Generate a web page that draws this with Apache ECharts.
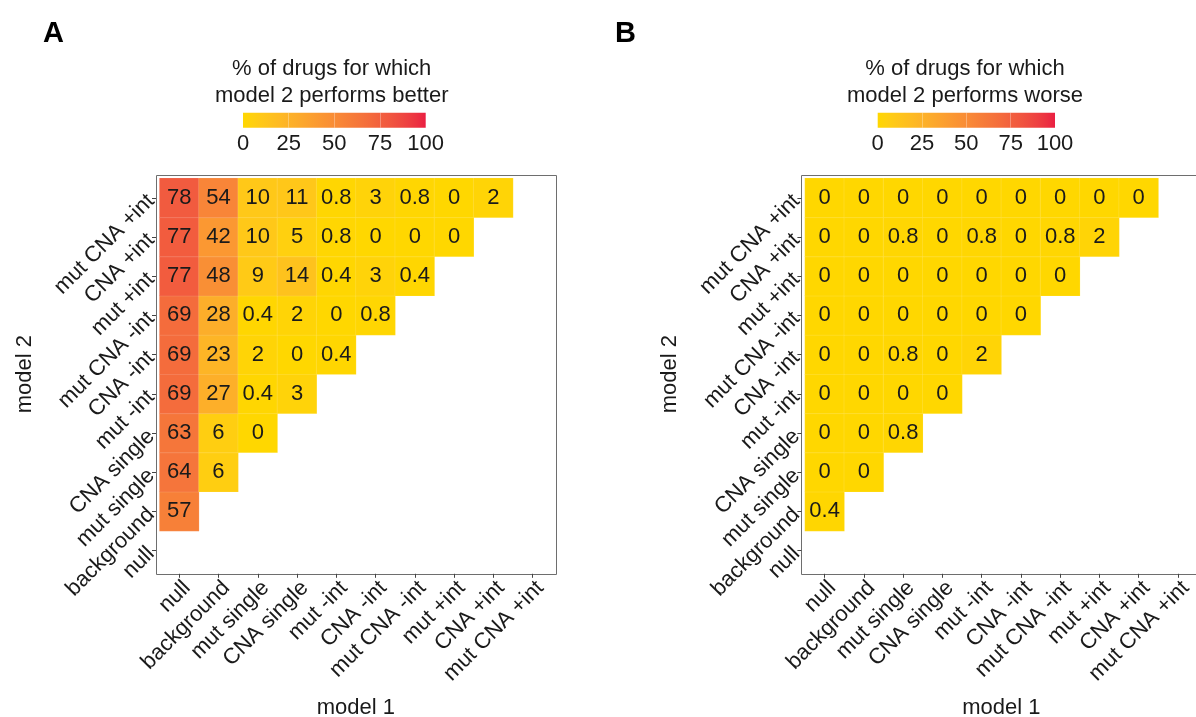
<!DOCTYPE html>
<html>
<head>
<meta charset="utf-8">
<title>Model comparison heatmaps</title>
<script src="https://cdn.jsdelivr.net/npm/echarts@6/dist/echarts.min.js"></script>
<style>
  html, body { margin: 0; padding: 0; background: #fff; }
  #chart { width: 1196px; height: 717px; }
</style>
</head>
<body>
<div id="chart"></div>
<script>
// Model names, in axis order (bottom-to-top on y, left-to-right on x)
const models = ['null', 'background', 'mut single', 'CNA single', 'mut -int',
  'CNA -int', 'mut CNA -int', 'mut +int', 'CNA +int', 'mut CNA +int'];

// % of drugs for which model 2 performs better; one row per model 2,
// starting at 'background', each row listing model 1 from 'null' onward
const betterRows = [
  [57],
  [64, 6],
  [63, 6, 0],
  [69, 27, 0.4, 3],
  [69, 23, 2, 0, 0.4],
  [69, 28, 0.4, 2, 0, 0.8],
  [77, 48, 9, 14, 0.4, 3, 0.4],
  [77, 42, 10, 5, 0.8, 0, 0, 0],
  [78, 54, 10, 11, 0.8, 3, 0.8, 0, 2]
];

// % of drugs for which model 2 performs worse, same layout
const worseRows = [
  [0.4],
  [0, 0],
  [0, 0, 0.8],
  [0, 0, 0, 0],
  [0, 0, 0.8, 0, 2],
  [0, 0, 0, 0, 0, 0],
  [0, 0, 0, 0, 0, 0, 0],
  [0, 0, 0.8, 0, 0.8, 0, 0.8, 2],
  [0, 0, 0, 0, 0, 0, 0, 0, 0]
];

// Colour bar ticks
const scaleTicks = [0, 25, 50, 75, 100];
const lowColor = '#FFD700';
const highColor = '#EA1F42';

// --- colour ramp interpolated in CIE Lab ---
function hexToRgb(h) {
  h = h.replace('#', '');
  return [0, 2, 4].map(i => parseInt(h.substr(i, 2), 16));
}
function toLin(c) { c /= 255; return c <= 0.04045 ? c / 12.92 : Math.pow((c + 0.055) / 1.055, 2.4); }
function fromLin(c) { const v = c <= 0.0031308 ? 12.92 * c : 1.055 * Math.pow(c, 1 / 2.4) - 0.055; return Math.max(0, Math.min(255, Math.round(v * 255))); }
const WP = [0.95047, 1, 1.08883];
function rgbToLab(rgb) {
  const [r, g, b] = rgb.map(toLin);
  const xyz = [
    (0.4124 * r + 0.3576 * g + 0.1805 * b) / WP[0],
    (0.2126 * r + 0.7152 * g + 0.0722 * b) / WP[1],
    (0.0193 * r + 0.1192 * g + 0.9505 * b) / WP[2]
  ];
  const f = t => t > 0.008856 ? Math.cbrt(t) : 7.787 * t + 16 / 116;
  const [fx, fy, fz] = xyz.map(f);
  return [116 * fy - 16, 500 * (fx - fy), 200 * (fy - fz)];
}
function labToRgb(lab) {
  const fy = (lab[0] + 16) / 116, fx = fy + lab[1] / 500, fz = fy - lab[2] / 200;
  const inv = t => t * t * t > 0.008856 ? t * t * t : (t - 16 / 116) / 7.787;
  const X = inv(fx) * WP[0], Y = inv(fy) * WP[1], Z = inv(fz) * WP[2];
  const r = 3.2406 * X - 1.5372 * Y - 0.4986 * Z;
  const g = -0.9689 * X + 1.8758 * Y + 0.0415 * Z;
  const b = 0.0557 * X - 0.2040 * Y + 1.0570 * Z;
  return [r, g, b].map(fromLin);
}
function labRamp(c0, c1, n) {
  const a = rgbToLab(hexToRgb(c0)), b = rgbToLab(hexToRgb(c1));
  const out = [];
  for (let i = 0; i < n; i++) {
    const t = i / (n - 1);
    const rgb = labToRgb([0, 1, 2].map(k => a[k] + (b[k] - a[k]) * t));
    out.push('rgb(' + rgb.join(',') + ')');
  }
  return out;
}
const ramp = labRamp(lowColor, highColor, 21);
const rampGradient = {
  type: 'linear', x: 0, y: 0, x2: 1, y2: 0,
  colorStops: ramp.map((c, i) => ({ offset: i / (ramp.length - 1), color: c }))
};

// Build [x, y, value] triples for the heatmap
function toCells(rows) {
  const cells = [];
  rows.forEach((row, r) => row.forEach((v, c) => cells.push([c, r + 1, v])));
  return cells;
}

const FONT = '"Liberation Sans", Arial, Helvetica, sans-serif';
const TXT = '#1a1a1a';

// Panel geometry (cell area, frame drawn a few px outside it)
const pad = 3.6;
const panels = [
  { left: 159.6, top: 178.2, width: 392.6, height: 392, bar: { left: 243, width: 182.7 }, titleX: 331.7,
    title: '% of drugs for which\nmodel 2 performs better', letter: 'A', letterX: 43, rows: betterRows },
  { left: 805, top: 178.2, width: 392.6, height: 392, bar: { left: 877.7, width: 177.3 }, titleX: 965,
    title: '% of drugs for which\nmodel 2 performs worse', letter: 'B', letterX: 615, rows: worseRows }
];

const grids = [], xAxes = [], yAxes = [], series = [], visualMaps = [], graphics = [];

panels.forEach((p, i) => {
  // heatmap grid (fixed size; labels may sit outside it)
  grids.push({ left: p.left, top: p.top, width: p.width, height: p.height, outerBoundsMode: 'none' });
  xAxes.push({
    type: 'category', gridIndex: grids.length - 1, data: models, offset: pad,
    name: 'model 1', nameLocation: 'middle', nameGap: 123,
    nameTextStyle: { fontFamily: FONT, fontSize: 22, color: TXT },
    axisLine: { show: false },
    axisTick: { show: true, alignWithLabel: true, length: 4, lineStyle: { color: '#444' } },
    axisLabel: { rotate: 45, interval: 0, margin: 3, verticalAlign: 'top',
      fontFamily: FONT, fontSize: 22, color: TXT },
    splitLine: { show: false }
  });
  yAxes.push({
    type: 'category', gridIndex: grids.length - 1, data: models, offset: pad,
    name: 'model 2', nameLocation: 'middle', nameGap: 120,
    nameTextStyle: { fontFamily: FONT, fontSize: 22, color: TXT },
    axisLine: { show: false },
    axisTick: { show: true, alignWithLabel: true, length: 4, lineStyle: { color: '#444' } },
    axisLabel: { rotate: 45, interval: 0, margin: 5, fontFamily: FONT, fontSize: 22, color: TXT },
    splitLine: { show: false }
  });
  series.push({
    type: 'heatmap', xAxisIndex: xAxes.length - 1, yAxisIndex: yAxes.length - 1,
    data: toCells(p.rows),
    itemStyle: { borderColor: 'rgba(255,255,255,0.2)', borderWidth: 0.6 },
    label: { show: true, fontFamily: FONT, fontSize: 22, color: TXT, formatter: d => String(d.value[2]) },
    emphasis: { disabled: true }
  });
  visualMaps.push({
    type: 'continuous', show: false, min: 0, max: 100, seriesIndex: series.length - 1,
    dimension: 2, inRange: { color: ramp }
  });

  // colour bar: gradient-filled grid with a 0-100 value axis
  grids.push({ left: p.bar.left, top: 112.7, width: p.bar.width, height: 15, show: true,
    backgroundColor: rampGradient, borderWidth: 0, outerBoundsMode: 'none' });
  xAxes.push({
    type: 'value', gridIndex: grids.length - 1, min: 0, max: 100, interval: 25,
    axisLine: { show: false }, axisTick: { show: false },
    axisLabel: { margin: 5, fontFamily: FONT, fontSize: 22, color: TXT, formatter: v => scaleTicks.includes(v) ? String(v) : '' },
    splitLine: { show: true, showMinLine: false, showMaxLine: false, lineStyle: { color: 'rgba(255,255,255,0.3)', width: 1 } }
  });
  yAxes.push({ type: 'value', gridIndex: grids.length - 1, show: false, min: 0, max: 1 });

  // panel frame
  graphics.push({
    type: 'rect', silent: true,
    shape: { x: Math.round(p.left - pad) + 0.5, y: Math.round(p.top - pad) + 0.5,
             width: Math.round(p.width + 2 * pad), height: Math.round(p.height + 2 * pad) },
    style: { fill: 'none', stroke: '#6e6e6e', lineWidth: 1 }
  });
  // legend title
  graphics.push({
    type: 'text', x: p.titleX, y: 55, silent: true,
    style: { text: p.title, font: '22px ' + FONT, fill: TXT, align: 'center', verticalAlign: 'top', lineHeight: 27 }
  });
  // panel letter
  graphics.push({
    type: 'text', x: p.letterX, y: 19, silent: true,
    style: { text: p.letter, font: 'bold 29px ' + FONT, fill: '#000', align: 'left', verticalAlign: 'top' }
  });
});

const chart = echarts.init(document.getElementById('chart'), null, { renderer: 'canvas' });
chart.setOption({
  animation: false,
  backgroundColor: '#fff',
  textStyle: { fontFamily: FONT },
  grid: grids,
  xAxis: xAxes,
  yAxis: yAxes,
  visualMap: visualMaps,
  series: series,
  graphic: graphics
});
</script>
</body>
</html>
